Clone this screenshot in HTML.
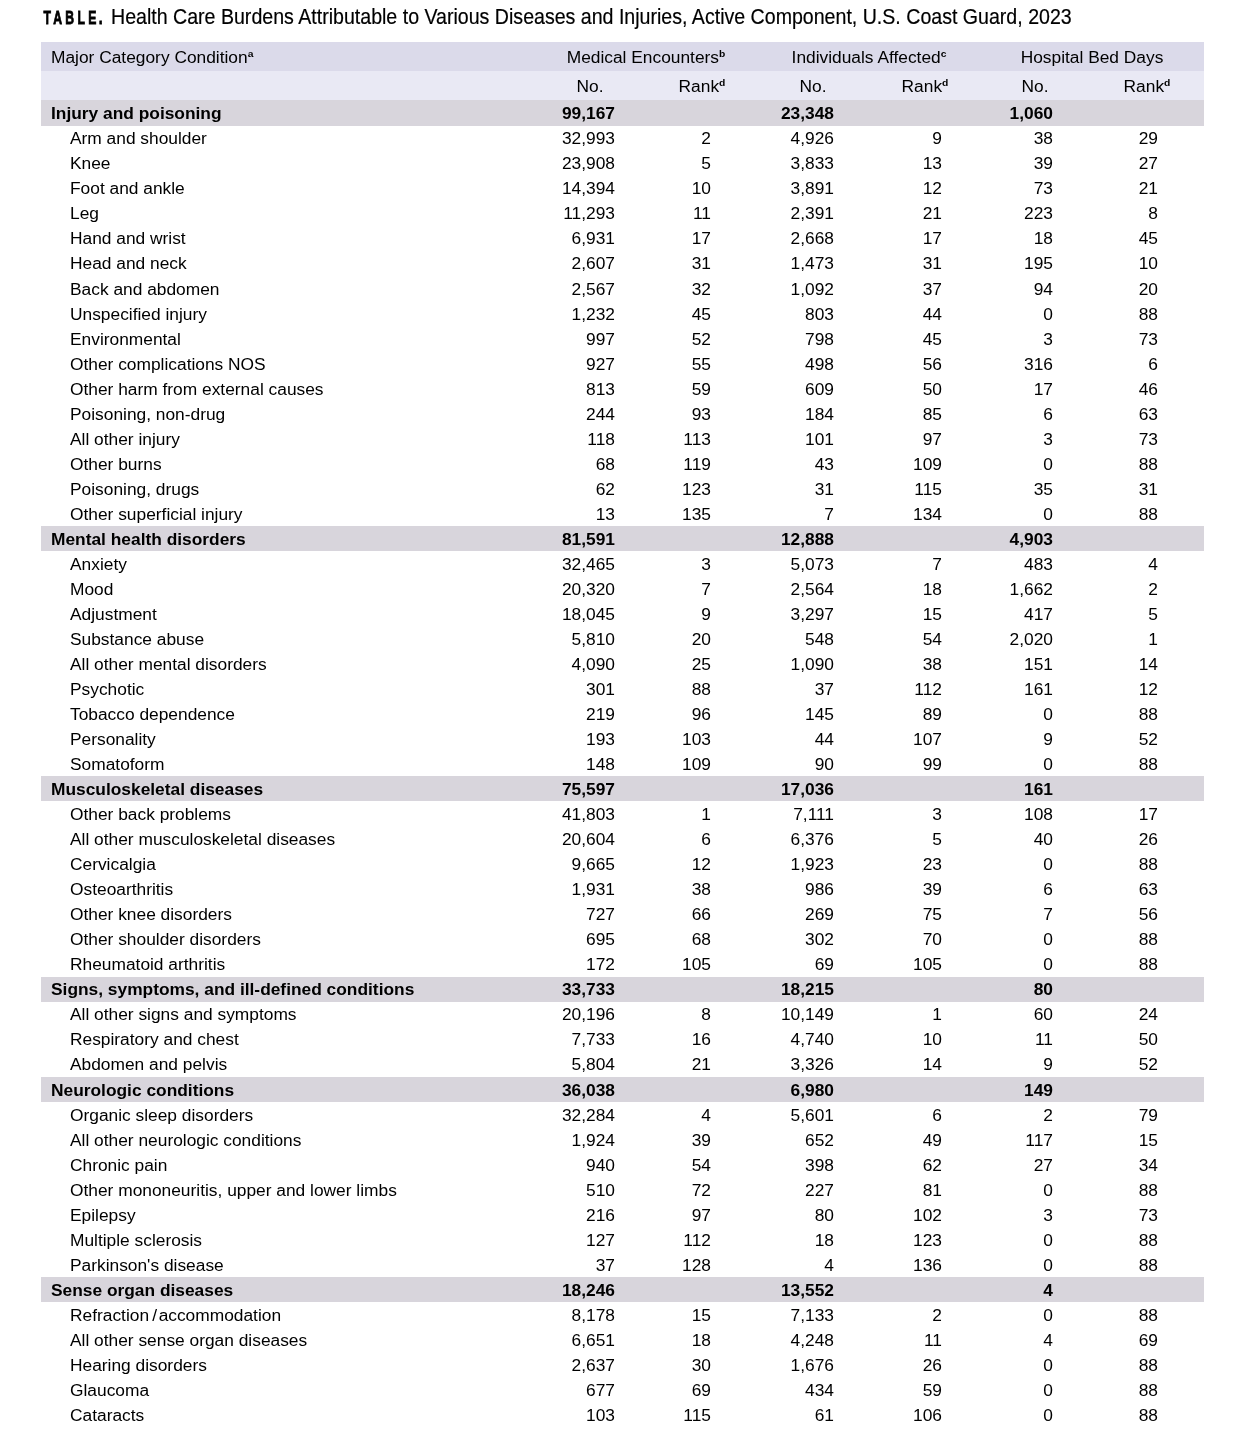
<!DOCTYPE html><html lang="en"><head><meta charset="utf-8"><title>Table</title><style>
html,body{margin:0;padding:0;background:#fff;}
body{width:1250px;height:1447px;position:relative;overflow:hidden;font-family:"Liberation Sans",Arial,sans-serif;color:#000;}
.title{position:absolute;left:43px;top:5px;font-size:19.2px;line-height:24px;white-space:nowrap;color:#000;}
.title .t{position:absolute;left:67.6px;top:0.1px;font-size:22.2px;-webkit-text-stroke:0.2px #000;transform:scaleX(0.8825);transform-origin:0 50%;}
.title b{position:absolute;left:0.4px;top:2.9px;font-weight:bold;letter-spacing:3.3px;display:inline-block;transform:scaleY(1.45);transform-origin:0 75%;font-size:12.2px;-webkit-text-stroke:0.55px #000;}
.title b .dot{font-size:14px;margin-left:-0.8px;}
.tbl{position:absolute;left:41px;top:42px;width:1162.6px;}
.r{position:relative;height:25.04px;line-height:25.04px;font-size:16px;white-space:nowrap;}
.h1{height:29.2px;line-height:29.2px;background:#dbdaea;}
.h2{height:29.3px;line-height:29.3px;background:#e9e9f4;}
.c{background:#d8d5dc;font-weight:bold;}
.r span.k{position:absolute;top:0.8px;transform:scaleX(1.084);}
.l{left:10px;transform-origin:0 50%;}
.d .l{left:28.8px;}
.n{text-align:right;width:100px;transform-origin:100% 50%;}
.n1{left:473.5px}.n2{left:569.5px}.n3{left:692.5px}.n4{left:800.5px}.n5{left:911.5px}.n6{left:1016.5px}
.ct{text-align:center;width:200px;transform-origin:50% 50%;}
sup{font-weight:bold;font-size:9.5px;vertical-align:baseline;position:relative;top:-6px;line-height:0;}
.sl{letter-spacing:-1.5px}
</style></head><body>
<div class="title"><b>TABLE<span class="dot">.</span></b><span class="t">Health Care Burdens Attributable to Various Diseases and Injuries, Active Component, U.S. Coast Guard, 2023</span></div>
<div class="tbl">
<div class="r h1"><span class="k l">Major Category Condition<sup>a</sup></span><span class="k ct" style="left:505px">Medical Encounters<sup>b</sup></span><span class="k ct" style="left:728px">Individuals Affected<sup>c</sup></span><span class="k ct" style="left:951px">Hospital Bed Days</span></div>
<div class="r h2"><span class="k ct" style="left:449px">No.</span><span class="k ct" style="left:561px">Rank<sup>d</sup></span><span class="k ct" style="left:672px">No.</span><span class="k ct" style="left:784px">Rank<sup>d</sup></span><span class="k ct" style="left:894px">No.</span><span class="k ct" style="left:1006px">Rank<sup>d</sup></span></div>
<div class="r c"><span class="k l">Injury and poisoning</span><span class="k n n1">99,167</span><span class="k n n3">23,348</span><span class="k n n5">1,060</span></div>
<div class="r d"><span class="k l">Arm and shoulder</span><span class="k n n1">32,993</span><span class="k n n2">2</span><span class="k n n3">4,926</span><span class="k n n4">9</span><span class="k n n5">38</span><span class="k n n6">29</span></div>
<div class="r d"><span class="k l">Knee</span><span class="k n n1">23,908</span><span class="k n n2">5</span><span class="k n n3">3,833</span><span class="k n n4">13</span><span class="k n n5">39</span><span class="k n n6">27</span></div>
<div class="r d"><span class="k l">Foot and ankle</span><span class="k n n1">14,394</span><span class="k n n2">10</span><span class="k n n3">3,891</span><span class="k n n4">12</span><span class="k n n5">73</span><span class="k n n6">21</span></div>
<div class="r d"><span class="k l">Leg</span><span class="k n n1">11,293</span><span class="k n n2">11</span><span class="k n n3">2,391</span><span class="k n n4">21</span><span class="k n n5">223</span><span class="k n n6">8</span></div>
<div class="r d"><span class="k l">Hand and wrist</span><span class="k n n1">6,931</span><span class="k n n2">17</span><span class="k n n3">2,668</span><span class="k n n4">17</span><span class="k n n5">18</span><span class="k n n6">45</span></div>
<div class="r d"><span class="k l">Head and neck</span><span class="k n n1">2,607</span><span class="k n n2">31</span><span class="k n n3">1,473</span><span class="k n n4">31</span><span class="k n n5">195</span><span class="k n n6">10</span></div>
<div class="r d"><span class="k l">Back and abdomen</span><span class="k n n1">2,567</span><span class="k n n2">32</span><span class="k n n3">1,092</span><span class="k n n4">37</span><span class="k n n5">94</span><span class="k n n6">20</span></div>
<div class="r d"><span class="k l">Unspecified injury</span><span class="k n n1">1,232</span><span class="k n n2">45</span><span class="k n n3">803</span><span class="k n n4">44</span><span class="k n n5">0</span><span class="k n n6">88</span></div>
<div class="r d"><span class="k l">Environmental</span><span class="k n n1">997</span><span class="k n n2">52</span><span class="k n n3">798</span><span class="k n n4">45</span><span class="k n n5">3</span><span class="k n n6">73</span></div>
<div class="r d"><span class="k l">Other complications NOS</span><span class="k n n1">927</span><span class="k n n2">55</span><span class="k n n3">498</span><span class="k n n4">56</span><span class="k n n5">316</span><span class="k n n6">6</span></div>
<div class="r d"><span class="k l">Other harm from external causes</span><span class="k n n1">813</span><span class="k n n2">59</span><span class="k n n3">609</span><span class="k n n4">50</span><span class="k n n5">17</span><span class="k n n6">46</span></div>
<div class="r d"><span class="k l">Poisoning, non-drug</span><span class="k n n1">244</span><span class="k n n2">93</span><span class="k n n3">184</span><span class="k n n4">85</span><span class="k n n5">6</span><span class="k n n6">63</span></div>
<div class="r d"><span class="k l">All other injury</span><span class="k n n1">118</span><span class="k n n2">113</span><span class="k n n3">101</span><span class="k n n4">97</span><span class="k n n5">3</span><span class="k n n6">73</span></div>
<div class="r d"><span class="k l">Other burns</span><span class="k n n1">68</span><span class="k n n2">119</span><span class="k n n3">43</span><span class="k n n4">109</span><span class="k n n5">0</span><span class="k n n6">88</span></div>
<div class="r d"><span class="k l">Poisoning, drugs</span><span class="k n n1">62</span><span class="k n n2">123</span><span class="k n n3">31</span><span class="k n n4">115</span><span class="k n n5">35</span><span class="k n n6">31</span></div>
<div class="r d"><span class="k l">Other superficial injury</span><span class="k n n1">13</span><span class="k n n2">135</span><span class="k n n3">7</span><span class="k n n4">134</span><span class="k n n5">0</span><span class="k n n6">88</span></div>
<div class="r c"><span class="k l">Mental health disorders</span><span class="k n n1">81,591</span><span class="k n n3">12,888</span><span class="k n n5">4,903</span></div>
<div class="r d"><span class="k l">Anxiety</span><span class="k n n1">32,465</span><span class="k n n2">3</span><span class="k n n3">5,073</span><span class="k n n4">7</span><span class="k n n5">483</span><span class="k n n6">4</span></div>
<div class="r d"><span class="k l">Mood</span><span class="k n n1">20,320</span><span class="k n n2">7</span><span class="k n n3">2,564</span><span class="k n n4">18</span><span class="k n n5">1,662</span><span class="k n n6">2</span></div>
<div class="r d"><span class="k l">Adjustment</span><span class="k n n1">18,045</span><span class="k n n2">9</span><span class="k n n3">3,297</span><span class="k n n4">15</span><span class="k n n5">417</span><span class="k n n6">5</span></div>
<div class="r d"><span class="k l">Substance abuse</span><span class="k n n1">5,810</span><span class="k n n2">20</span><span class="k n n3">548</span><span class="k n n4">54</span><span class="k n n5">2,020</span><span class="k n n6">1</span></div>
<div class="r d"><span class="k l">All other mental disorders</span><span class="k n n1">4,090</span><span class="k n n2">25</span><span class="k n n3">1,090</span><span class="k n n4">38</span><span class="k n n5">151</span><span class="k n n6">14</span></div>
<div class="r d"><span class="k l">Psychotic</span><span class="k n n1">301</span><span class="k n n2">88</span><span class="k n n3">37</span><span class="k n n4">112</span><span class="k n n5">161</span><span class="k n n6">12</span></div>
<div class="r d"><span class="k l">Tobacco dependence</span><span class="k n n1">219</span><span class="k n n2">96</span><span class="k n n3">145</span><span class="k n n4">89</span><span class="k n n5">0</span><span class="k n n6">88</span></div>
<div class="r d"><span class="k l">Personality</span><span class="k n n1">193</span><span class="k n n2">103</span><span class="k n n3">44</span><span class="k n n4">107</span><span class="k n n5">9</span><span class="k n n6">52</span></div>
<div class="r d"><span class="k l">Somatoform</span><span class="k n n1">148</span><span class="k n n2">109</span><span class="k n n3">90</span><span class="k n n4">99</span><span class="k n n5">0</span><span class="k n n6">88</span></div>
<div class="r c"><span class="k l">Musculoskeletal diseases</span><span class="k n n1">75,597</span><span class="k n n3">17,036</span><span class="k n n5">161</span></div>
<div class="r d"><span class="k l">Other back problems</span><span class="k n n1">41,803</span><span class="k n n2">1</span><span class="k n n3">7,111</span><span class="k n n4">3</span><span class="k n n5">108</span><span class="k n n6">17</span></div>
<div class="r d"><span class="k l">All other musculoskeletal diseases</span><span class="k n n1">20,604</span><span class="k n n2">6</span><span class="k n n3">6,376</span><span class="k n n4">5</span><span class="k n n5">40</span><span class="k n n6">26</span></div>
<div class="r d"><span class="k l">Cervicalgia</span><span class="k n n1">9,665</span><span class="k n n2">12</span><span class="k n n3">1,923</span><span class="k n n4">23</span><span class="k n n5">0</span><span class="k n n6">88</span></div>
<div class="r d"><span class="k l">Osteoarthritis</span><span class="k n n1">1,931</span><span class="k n n2">38</span><span class="k n n3">986</span><span class="k n n4">39</span><span class="k n n5">6</span><span class="k n n6">63</span></div>
<div class="r d"><span class="k l">Other knee disorders</span><span class="k n n1">727</span><span class="k n n2">66</span><span class="k n n3">269</span><span class="k n n4">75</span><span class="k n n5">7</span><span class="k n n6">56</span></div>
<div class="r d"><span class="k l">Other shoulder disorders</span><span class="k n n1">695</span><span class="k n n2">68</span><span class="k n n3">302</span><span class="k n n4">70</span><span class="k n n5">0</span><span class="k n n6">88</span></div>
<div class="r d"><span class="k l">Rheumatoid arthritis</span><span class="k n n1">172</span><span class="k n n2">105</span><span class="k n n3">69</span><span class="k n n4">105</span><span class="k n n5">0</span><span class="k n n6">88</span></div>
<div class="r c"><span class="k l">Signs, symptoms, and ill-defined conditions</span><span class="k n n1">33,733</span><span class="k n n3">18,215</span><span class="k n n5">80</span></div>
<div class="r d"><span class="k l">All other signs and symptoms</span><span class="k n n1">20,196</span><span class="k n n2">8</span><span class="k n n3">10,149</span><span class="k n n4">1</span><span class="k n n5">60</span><span class="k n n6">24</span></div>
<div class="r d"><span class="k l">Respiratory and chest</span><span class="k n n1">7,733</span><span class="k n n2">16</span><span class="k n n3">4,740</span><span class="k n n4">10</span><span class="k n n5">11</span><span class="k n n6">50</span></div>
<div class="r d"><span class="k l">Abdomen and pelvis</span><span class="k n n1">5,804</span><span class="k n n2">21</span><span class="k n n3">3,326</span><span class="k n n4">14</span><span class="k n n5">9</span><span class="k n n6">52</span></div>
<div class="r c"><span class="k l">Neurologic conditions</span><span class="k n n1">36,038</span><span class="k n n3">6,980</span><span class="k n n5">149</span></div>
<div class="r d"><span class="k l">Organic sleep disorders</span><span class="k n n1">32,284</span><span class="k n n2">4</span><span class="k n n3">5,601</span><span class="k n n4">6</span><span class="k n n5">2</span><span class="k n n6">79</span></div>
<div class="r d"><span class="k l">All other neurologic conditions</span><span class="k n n1">1,924</span><span class="k n n2">39</span><span class="k n n3">652</span><span class="k n n4">49</span><span class="k n n5">117</span><span class="k n n6">15</span></div>
<div class="r d"><span class="k l">Chronic pain</span><span class="k n n1">940</span><span class="k n n2">54</span><span class="k n n3">398</span><span class="k n n4">62</span><span class="k n n5">27</span><span class="k n n6">34</span></div>
<div class="r d"><span class="k l">Other mononeuritis, upper and lower limbs</span><span class="k n n1">510</span><span class="k n n2">72</span><span class="k n n3">227</span><span class="k n n4">81</span><span class="k n n5">0</span><span class="k n n6">88</span></div>
<div class="r d"><span class="k l">Epilepsy</span><span class="k n n1">216</span><span class="k n n2">97</span><span class="k n n3">80</span><span class="k n n4">102</span><span class="k n n5">3</span><span class="k n n6">73</span></div>
<div class="r d"><span class="k l">Multiple sclerosis</span><span class="k n n1">127</span><span class="k n n2">112</span><span class="k n n3">18</span><span class="k n n4">123</span><span class="k n n5">0</span><span class="k n n6">88</span></div>
<div class="r d"><span class="k l">Parkinson's disease</span><span class="k n n1">37</span><span class="k n n2">128</span><span class="k n n3">4</span><span class="k n n4">136</span><span class="k n n5">0</span><span class="k n n6">88</span></div>
<div class="r c"><span class="k l">Sense organ diseases</span><span class="k n n1">18,246</span><span class="k n n3">13,552</span><span class="k n n5">4</span></div>
<div class="r d"><span class="k l">Refraction<span class="sl"> / </span>accommodation</span><span class="k n n1">8,178</span><span class="k n n2">15</span><span class="k n n3">7,133</span><span class="k n n4">2</span><span class="k n n5">0</span><span class="k n n6">88</span></div>
<div class="r d"><span class="k l">All other sense organ diseases</span><span class="k n n1">6,651</span><span class="k n n2">18</span><span class="k n n3">4,248</span><span class="k n n4">11</span><span class="k n n5">4</span><span class="k n n6">69</span></div>
<div class="r d"><span class="k l">Hearing disorders</span><span class="k n n1">2,637</span><span class="k n n2">30</span><span class="k n n3">1,676</span><span class="k n n4">26</span><span class="k n n5">0</span><span class="k n n6">88</span></div>
<div class="r d"><span class="k l">Glaucoma</span><span class="k n n1">677</span><span class="k n n2">69</span><span class="k n n3">434</span><span class="k n n4">59</span><span class="k n n5">0</span><span class="k n n6">88</span></div>
<div class="r d"><span class="k l">Cataracts</span><span class="k n n1">103</span><span class="k n n2">115</span><span class="k n n3">61</span><span class="k n n4">106</span><span class="k n n5">0</span><span class="k n n6">88</span></div>
</div></body></html>
